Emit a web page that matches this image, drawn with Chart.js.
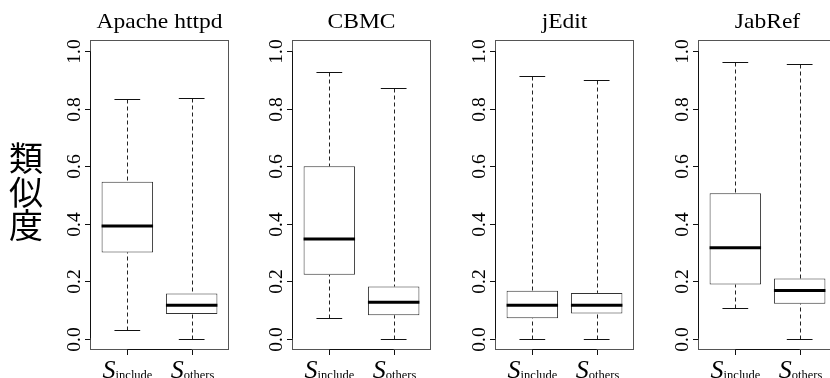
<!DOCTYPE html>
<html><head><meta charset="utf-8">
<script src="https://cdn.jsdelivr.net/npm/chart.js@4.4.0/dist/chart.umd.min.js"></script>
<style>
html,body{margin:0;padding:0;background:#fff;width:830px;height:378px;overflow:hidden;position:relative}
.panel{position:absolute;top:0}
</style></head><body>
<script>
// ---- data ----
const projects = ['Apache httpd', 'CBMC', 'jEdit', 'JabRef'];
const groups = ['include', 'others'];
const groupPositions = [1, 2];
const yTicks = [0, 0.2, 0.4, 0.6, 0.8, 1.0];
const yTickLabels = ['0.0', '0.2', '0.4', '0.6', '0.8', '1.0'];
const whiskerLow  = [[0.028, 0.000], [0.072, 0.000], [0.000, 0.000], [0.107, 0.000]];
const q1          = [[0.300, 0.085], [0.222, 0.081], [0.071, 0.087], [0.188, 0.121]];
const median      = [[0.392, 0.116], [0.347, 0.126], [0.116, 0.116], [0.316, 0.167]];
const q3          = [[0.546, 0.157], [0.600, 0.181], [0.166, 0.159], [0.506, 0.209]];
const whiskerHigh = [[0.835, 0.837], [0.930, 0.874], [0.914, 0.899], [0.963, 0.956]];
const yAxisTitle = '類似度';

// ---- layout ----
const panelLefts = [90, 292, 495, 698];
const PLOT_W = 139, PAD_L = 90, PAD_R = 25, PAD_T = 40, PAD_B = 28, H = 378;
const BOX_HALF = 0.4, CAP_HALF = 0.2;

function line(ctx, x1, y1, x2, y2) { ctx.beginPath(); ctx.moveTo(x1, y1); ctx.lineTo(x2, y2); ctx.stroke(); }

function boxPlugin(i) {
  return {
    id: 'boxExtras' + i,
    afterDatasetsDraw(chart) {
      const { ctx, chartArea: a, scales: { x, y } } = chart;
      ctx.save();
      // whiskers, caps, medians
      groupPositions.forEach((pos, j) => {
        const cx = Math.round(x.getPixelForValue(pos)) + 0.5;
        const capL = x.getPixelForValue(pos - CAP_HALF), capR = x.getPixelForValue(pos + CAP_HALF);
        const boxL = x.getPixelForValue(pos - BOX_HALF), boxR = x.getPixelForValue(pos + BOX_HALF);
        const yLo = Math.round(y.getPixelForValue(whiskerLow[i][j])) + 0.5;
        const yHi = Math.round(y.getPixelForValue(whiskerHigh[i][j])) + 0.5;
        const yQ1 = y.getPixelForValue(q1[i][j]);
        const yQ3 = y.getPixelForValue(q3[i][j]);
        const yMed = y.getPixelForValue(median[i][j]);
        ctx.strokeStyle = '#222'; ctx.lineWidth = 1;
        ctx.setLineDash([4, 3]);
        line(ctx, cx, yHi, cx, yQ3);
        line(ctx, cx, yLo, cx, yQ1);
        ctx.setLineDash([]);
        ctx.strokeStyle = '#111';
        line(ctx, capL, yHi, capR, yHi);
        line(ctx, capL, yLo, capR, yLo);
        ctx.strokeStyle = '#000'; ctx.lineWidth = 3;
        line(ctx, boxL, yMed, boxR, yMed);
      });
      // frame
      ctx.lineWidth = 1; ctx.strokeStyle = '#555';
      ctx.strokeRect(a.left + 0.5, a.top + 0.5, a.right - a.left - 1, a.bottom - a.top - 1);
      // y axis
      ctx.strokeStyle = '#111';
      const ax = a.left + 0.5;
      line(ctx, ax, y.getPixelForValue(yTicks[0]), ax, y.getPixelForValue(yTicks[yTicks.length - 1]));
      ctx.fillStyle = '#000';
      ctx.font = '19.5px "Liberation Serif", "Times New Roman", serif';
      yTicks.forEach((v, k) => {
        const py = Math.round(y.getPixelForValue(v)) + 0.5;
        line(ctx, a.left - 5, py, a.left + 0.5, py);
        ctx.save();
        ctx.translate(a.left - 10, py);
        ctx.rotate(-Math.PI / 2);
        ctx.textAlign = 'center'; ctx.textBaseline = 'alphabetic';
        ctx.fillText(yTickLabels[k], 0, 0);
        ctx.restore();
      });
      // x axis
      const by = a.bottom - 0.5;
      line(ctx, x.getPixelForValue(groupPositions[0]), by, x.getPixelForValue(groupPositions[groupPositions.length - 1]), by);
      groupPositions.forEach((pos, j) => {
        const cx = Math.round(x.getPixelForValue(pos)) + 0.5;
        line(ctx, cx, a.bottom, cx, a.bottom + 5);
        const fS = 'italic 26px "Liberation Serif", "Times New Roman", serif';
        const fSub = '12.5px "Liberation Serif", "Times New Roman", serif';
        ctx.font = fS; const wS = ctx.measureText('S').width;
        ctx.font = fSub; const wSub = ctx.measureText(groups[j]).width;
        const start = cx - (wS + wSub) / 2;
        ctx.textAlign = 'left'; ctx.textBaseline = 'alphabetic';
        ctx.font = fS; ctx.fillText('S', start, 378);
        ctx.font = fSub; ctx.fillText(groups[j], start + wS, 379);
      });
      // title (slightly wide serif as in the reference)
      ctx.save();
      ctx.font = '21px "Liberation Serif", "Times New Roman", serif';
      ctx.textAlign = 'center'; ctx.textBaseline = 'alphabetic';
      ctx.fillStyle = '#000';
      ctx.translate((a.left + a.right) / 2, 28);
      ctx.scale(1.12, 1);
      ctx.fillText(projects[i], 0, 0);
      ctx.restore();
      // y-axis title (first panel only)
      if (i === 0) {
        ctx.font = '34px "Noto Sans CJK JP", "Noto Sans CJK SC", sans-serif';
        ctx.textAlign = 'center'; ctx.textBaseline = 'middle';
        ctx.fillStyle = '#000';
        const centers = [158.5, 192, 225.5];
        Array.from(yAxisTitle).forEach((ch, k) => ctx.fillText(ch, 26 - (a.left - PAD_L), centers[k]));
      }
      ctx.restore();
    }
  };
}

projects.forEach((name, i) => {
  const div = document.createElement('div');
  div.className = 'panel';
  div.style.left = (panelLefts[i] - PAD_L) + 'px';
  const cv = document.createElement('canvas');
  cv.width = PAD_L + PLOT_W + PAD_R; cv.height = H;
  cv.style.width = cv.width + 'px'; cv.style.height = H + 'px';
  div.appendChild(cv);
  document.body.appendChild(div);
  new Chart(cv, {
    type: 'bar',
    data: {
      datasets: [{
        data: groupPositions.map((p, j) => ({ x: p, y: [q1[i][j], q3[i][j]] })),
        backgroundColor: '#fff',
        borderColor: '#333',
        borderWidth: 1,
        borderSkipped: false,
        barPercentage: BOX_HALF * 2,
        categoryPercentage: 1
      }]
    },
    options: {
      responsive: false,
      animation: false,
      devicePixelRatio: 1,
      events: [],
      layout: { padding: { left: PAD_L, right: PAD_R, top: PAD_T, bottom: PAD_B } },
      plugins: { legend: { display: false }, tooltip: { enabled: false }, title: { display: false } },
      scales: {
        x: { type: 'linear', min: 0.42, max: 2.58, offset: false, grid: { offset: false }, display: false },
        y: { min: -0.04, max: 1.04, display: false }
      }
    },
    plugins: [boxPlugin(i)]
  });
});
</script>
</body></html>
